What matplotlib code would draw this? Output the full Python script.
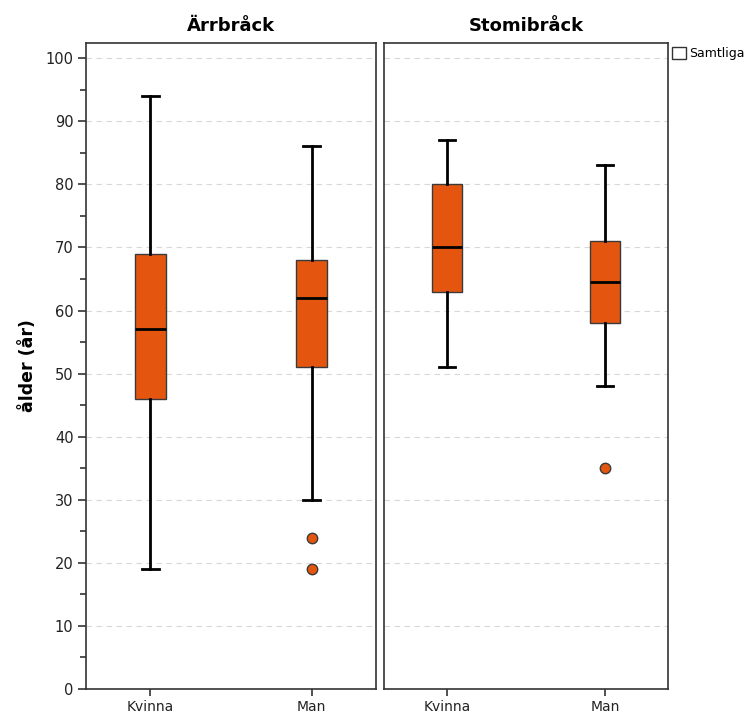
import matplotlib
matplotlib.use("Agg")
import matplotlib.pyplot as plt
from matplotlib.patches import Patch

panels = ["Ärrbråck", "Stomibråck"]
groups = ["Kvinna", "Man"]
# per panel, per group: whislo, q1, median, q3, whishi, outliers
whislo = [[19, 30], [51, 48]]
q1 = [[46, 51], [63, 58]]
med = [[57, 62], [70, 64.5]]
q3 = [[69, 68], [80, 71]]
whishi = [[94, 86], [87, 83]]
fliers = [[[], [24, 19]], [[], [35]]]
yticks = [0, 10, 20, 30, 40, 50, 60, 70, 80, 90, 100]
ylabel = "ålder (år)"
legend_label = "Samtliga"

fill = "#E4560F"
plt.rcParams['font.family'] = ['DejaVu Sans']

fig = plt.figure(figsize=(7.54, 7.17), dpi=100)
pos = [[86/754, 0.039, 290/754, 0.901], [384/754, 0.039, 284/754, 0.901]]

for p in range(2):
    ax = fig.add_axes(pos[p])
    stats = []
    for g in range(2):
        stats.append(dict(whislo=whislo[p][g], q1=q1[p][g], med=med[p][g],
                          q3=q3[p][g], whishi=whishi[p][g], fliers=fliers[p][g]))
    ax.bxp(stats, positions=[1, 2], widths=0.19, patch_artist=True,
           showfliers=True,
           boxprops=dict(facecolor=fill, edgecolor="#3a3a3a", linewidth=1.0),
           medianprops=dict(color="black", linewidth=2.0),
           whiskerprops=dict(color="black", linewidth=2.0),
           capprops=dict(color="black", linewidth=2.0),
           capwidths=0.105,
           flierprops=dict(marker="o", markerfacecolor=fill, markeredgecolor="#3a3a3a",
                           markersize=7.5, markeredgewidth=1.0))
    ax.set_xlim(0.6, 2.4)
    ax.set_ylim(0, 102.4)
    ax.set_xticks([1, 2])
    ax.set_xticklabels(groups, fontsize=10, color="#222222")
    ax.set_yticks(yticks)
    ax.set_yticks(range(5, 100, 10), minor=True)
    ax.grid(axis="y", which="major", linestyle=(0, (5, 4)), color="#d8d8d8", linewidth=0.8)
    ax.set_axisbelow(True)
    for s in ax.spines.values():
        s.set_linewidth(1.2)
        s.set_color("#333333")
    ax.tick_params(axis="x", length=5, width=1.2, color="#333333", pad=3)
    if p == 0:
        ax.tick_params(axis="y", which="major", length=6, width=1.2, labelsize=10.5,
                       labelcolor="#222222", color="#333333", pad=3)
        ax.tick_params(axis="y", which="minor", length=4, width=1.2, color="#333333")
        ax.set_ylabel(ylabel, fontsize=12.5, fontweight="bold", labelpad=6)
    else:
        ax.tick_params(axis="y", which="both", left=False, labelleft=False)
    ax.set_title(panels[p], fontsize=13, fontweight="bold", pad=9)
    if p == 1:
        h = Patch(facecolor="white", edgecolor="#333333", linewidth=1.0)
        ax.legend([h], [legend_label], loc="upper left", bbox_to_anchor=(1.0, 1.0),
                  frameon=False, fontsize=9, handlelength=1.1, handleheight=1.1,
                  handletextpad=0.3, borderaxespad=0.1, borderpad=0.2)

fig.savefig("out.png", dpi=100)
